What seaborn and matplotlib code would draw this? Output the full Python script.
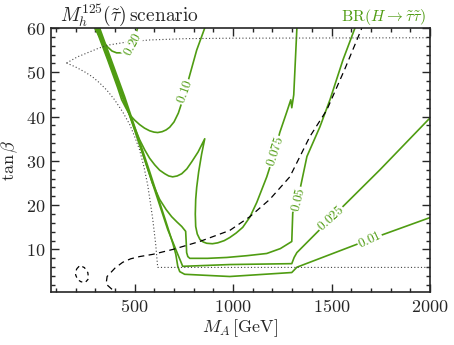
import numpy as np
import pandas as pd
import seaborn as sns
import matplotlib.pyplot as plt
from matplotlib.ticker import MultipleLocator, FuncFormatter

sns.set_style('ticks')
plt.rcParams['mathtext.fontset'] = 'cm'
plt.rcParams['font.family'] = ['DejaVu Serif']

green = '#4f9c12'

# BR(H -> stau stau) contours (M_A [GeV], tan beta)
br020_x = [297, 322, 345, 363, 385, 408, 428, 444, 462, 480, 500, 515]
br020_y = [60, 58, 56.7, 55.7, 54.8, 54.4, 54.4, 54.6, 55.2, 56.2, 57.8, 60]

br010_x = [302, 363, 414, 434, 455, 475, 500, 525, 550, 576, 598, 617, 640, 660, 678,
           700, 722, 744, 762, 780, 815, 856]
br010_y = [60, 52.8, 46.5, 43.8, 42.0, 40.4, 39.2, 38.2, 37.4, 36.8, 36.5, 36.4, 36.6, 37.0, 37.6,
           38.8, 40.8, 43.8, 46.5, 49.4, 55, 60]

br0075_x = [307, 434, 475, 500, 525, 551, 576, 602, 627, 653, 673, 693, 716, 739, 765, 790, 822, 856,
            840, 825, 815, 810, 808, 810, 818, 831, 848, 866, 895, 922,
            955, 983, 1015, 1049, 1085, 1120, 1171, 1212, 1237, 1273, 1293, 1298, 1308, 1324]
br0075_y = [60, 44.7, 40.3, 37.5, 34.8, 32.5, 30.6, 29.1, 27.9, 27.1, 26.6, 26.4, 26.6, 27.1, 28.2, 29.8, 32.0, 35,
            31.5, 27.5, 24.0, 21.3, 18.0, 15.2, 13.5, 12.3, 11.7, 11.4, 11.3, 11.5,
            12.0, 12.7, 13.7, 15, 17.3, 20.6, 26.4, 32.1, 36.4, 41.1, 43.8, 42, 44.9, 60]

br005_x = [312, 439, 500, 551, 590, 627, 660, 688, 715, 739, 759, 762, 764, 770, 780, 870, 968,
           1070, 1171, 1240, 1298, 1303, 1329, 1375, 1441, 1492, 1558, 1619]
br005_y = [60, 44.7, 37.0, 30.3, 25.0, 21.3, 19.0, 17.4, 16.2, 15.2, 14.1, 11.5, 9.3, 8.4, 8.0, 8.0, 8.2,
           8.6, 9.1, 10.2, 11.8, 18.3, 21.3, 31, 37.7, 43.8, 52.8, 60]

br0025_x = [317, 444, 576, 668, 700, 719, 734, 744, 983, 1298, 1310, 1324, 1492, 1746, 2000]
br0025_y = [60, 44.5, 26.9, 14.5, 11.0, 8.9, 7.3, 6.2, 6.6, 6.8, 8.2, 9.3, 16.8, 28, 39.7]

br001_x = [322, 449, 576, 668, 695, 709, 719, 729, 754, 983, 1298, 1324, 1695, 2000]
br001_y = [60, 44.5, 27.6, 15, 11.2, 8.9, 6.2, 5.0, 4.4, 3.9, 4.8, 6.0, 12.3, 17.2]

# dashed black line
dash_x = [385, 355, 360, 400, 439, 480, 525, 592, 693, 830, 983, 1085, 1186, 1288, 1390, 1476, 1568, 1654]
dash_y = [1.0, 2.2, 3.9, 5.8, 7.1, 7.9, 8.4, 8.9, 10, 11.8, 14.3, 17.4, 21.3, 26.4, 35.5, 41.5, 50.8, 60]
blob_x = [205, 222, 245, 262, 266, 250, 228, 210, 200, 205]
blob_y = [5.6, 6.4, 5.9, 4.8, 3.4, 2.6, 2.7, 3.2, 4.3, 5.6]

# dotted black lines
dot_top_x = [154, 210, 271, 320, 373, 470, 576, 760, 983, 2000]
dot_top_y = [52.1, 53.5, 54.6, 55.5, 56.2, 56.9, 57.3, 57.6, 57.7, 57.8]
dot_low_x = [154, 200, 246, 285, 322, 360, 398, 440, 475, 500, 525, 548, 566, 580, 592, 607, 617, 2000]
dot_low_y = [52.1, 51.2, 50.1, 49.0, 47.6, 45.9, 43.8, 41.0, 38.2, 35.5, 32.5, 28.5, 24.6, 20.5, 16.8, 11.1, 5.95, 5.95]

labels = ['0.20', '0.10', '0.075', '0.05', '0.025', '0.01']
label_x = [490, 754, 1212, 1329, 1497, 1695]
label_y = [56.4, 45.6, 32.1, 21.3, 17.0, 12.1]
label_rot = [62, 70, 72, 76, 42, 25]

fig = plt.figure(figsize=(4.54, 3.45), dpi=100)
ax = fig.add_axes([0.1123, 0.1536, 0.8348, 0.7652])

curves = [(br020_x, br020_y), (br010_x, br010_y), (br0075_x, br0075_y),
          (br005_x, br005_y), (br0025_x, br0025_y), (br001_x, br001_y)]
for cx, cy in curves:
    sns.lineplot(x=cx, y=cy, sort=False, estimator=None, color=green, lw=1.2, ax=ax)

sns.lineplot(x=dash_x, y=dash_y, sort=False, estimator=None, color='black', lw=0.9,
             linestyle=(0, (5, 3.5)), ax=ax)
sns.lineplot(x=blob_x, y=blob_y, sort=False, estimator=None, color='black', lw=0.9,
             linestyle=(0, (3, 3)), ax=ax)
sns.lineplot(x=dot_top_x, y=dot_top_y, sort=False, estimator=None, color='#444444', lw=0.8,
             linestyle=(0, (1, 2)), ax=ax)
sns.lineplot(x=dot_low_x, y=dot_low_y, sort=False, estimator=None, color='#444444', lw=0.8,
             linestyle=(0, (1, 2)), ax=ax)

for t, lx, ly, r in zip(labels, label_x, label_y, label_rot):
    ax.text(lx, ly, '$' + t + '$', color=green, fontsize=9.5, rotation=r,
            ha='center', va='center', rotation_mode='anchor',
            bbox=dict(facecolor='white', edgecolor='none', pad=0.5))

ax.set_xlim(75, 2000)
ax.set_ylim(0.4, 60)
ax.xaxis.set_major_locator(MultipleLocator(500))
ax.xaxis.set_minor_locator(MultipleLocator(100))
ax.yaxis.set_major_locator(MultipleLocator(10))
ax.yaxis.set_minor_locator(MultipleLocator(2))
fmt = FuncFormatter(lambda v, p: '$%d$' % v)
ax.xaxis.set_major_formatter(fmt)
ax.yaxis.set_major_formatter(fmt)
ax.tick_params(which='both', direction='in', top=True, right=True, labelsize=13, width=1.0)
ax.tick_params(which='major', length=5.5, pad=4)
ax.tick_params(which='minor', length=3)
for s in ax.spines.values():
    s.set_linewidth(1.2)

ax.set_xlabel(r'$M_A\,[\mathrm{GeV}]$', fontsize=13, labelpad=1)
ax.set_ylabel(r'$\tan\beta$', fontsize=13, labelpad=4)
ax.set_title(r'$M_h^{125}(\tilde{\tau})\,\mathrm{scenario}$', loc='left', fontsize=14, pad=3, x=0.025)
ax.set_title(r'$\mathrm{BR}(H\rightarrow\tilde{\tau}\tilde{\tau})$', loc='right',
             fontsize=11.5, color=green, pad=5, x=0.99)

fig.savefig('out.png', dpi=100)
